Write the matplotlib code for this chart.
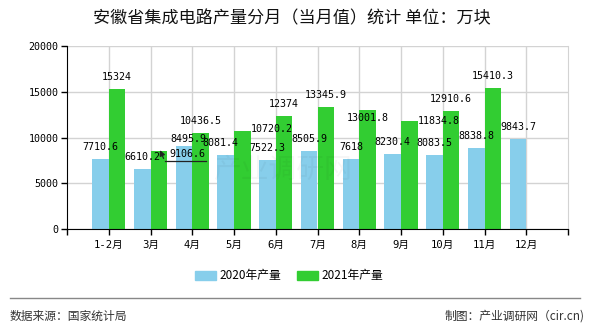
import matplotlib
matplotlib.use('Agg')
import matplotlib.pyplot as plt
from matplotlib.lines import Line2D
from matplotlib.patches import Patch

months = ['1-2月', '3月', '4月', '5月', '6月', '7月', '8月', '9月', '10月', '11月', '12月']
prod_2020 = [7710.6, 6610.2, 9106.6, 8081.4, 7522.3, 8505.9, 7618, 8230.4, 8083.5, 8838.8, 9843.7]
prod_2021 = [15324, 8495.9, 10436.5, 10720.2, 12374, 13345.9, 13001.8, 11834.8, 12910.6, 15410.3, None]
labels_2020 = ['7710.6', '6610.2', '9106.6', '8081.4', '7522.3', '8505.9', '7618', '8230.4', '8083.5', '8838.8', '9843.7']
labels_2021 = ['15324', '8495.9', '10436.5', '10720.2', '12374', '13345.9', '13001.8', '11834.8', '12910.6', '15410.3', '']

c2020 = '#87CEEB'
c2021 = '#32CD32'
cjk = ['Noto Sans CJK SC', 'DejaVu Sans']
mono = ['DejaVu Sans Mono', 'Noto Sans CJK SC']

fig = plt.figure(figsize=(5.9, 3.3), dpi=100)
ax = fig.add_axes([67/590, 1-229.3/330, 501/590, 183.6/330])

x = list(range(len(months)))
w = 0.4
ax.bar([i - w/2 for i in x], prod_2020, width=w, color=c2020, zorder=2)
ax.bar([i + w/2 for i in x if prod_2021[i] is not None],
       [v for v in prod_2021 if v is not None], width=w, color=c2021, zorder=2)

# label shifts (px right, px down) for labels that were moved in the original
shift_2020 = {2: (3, 20), 3: (-5, 0)}
shift_2021 = {1: (30, 0), 3: (29, 10), 6: (0, 20), 7: (29, 12)}
k = 0.72
for i in x:
    dx, dy = shift_2020.get(i, (0, 0))
    ax.annotate(labels_2020[i], (i - w/2, prod_2020[i]), xytext=(dx*k, (12 - dy)*k),
                textcoords='offset points', ha='center', va='center',
                fontsize=7.2, family=mono, zorder=4)
    if prod_2021[i] is not None:
        dx, dy = shift_2021.get(i, (0, 0))
        ax.annotate(labels_2021[i], (i + w/2, prod_2021[i]), xytext=(dx*k, (12 - dy)*k),
                    textcoords='offset points', ha='center', va='center',
                    fontsize=7.2, family=mono, zorder=4)

# leader line of the moved label
ax.plot([1.34, 2.33], [7440, 7440], color='#222222', lw=0.9, zorder=5)
ax.annotate('', xy=(1.2, 8900), xytext=(1.34, 7440),
            arrowprops=dict(arrowstyle='-|>', color='#222222', lw=0.9, mutation_scale=8), zorder=5)

ax.set_xlim(-1, len(months))
ax.set_ylim(0, 20000)
ax.set_yticks([0, 5000, 10000, 15000, 20000])
ax.set_xticks(x)
ax.set_xticklabels(months, family=mono, fontsize=7.6)
for t in ax.get_yticklabels():
    t.set_family(mono)
    t.set_fontsize(7.2)
ax.set_xticks([-1, len(months)], minor=True)
ax.tick_params(axis='both', which='both', length=4, width=1, color='black', pad=2)
ax.tick_params(axis='x', pad=4)
ax.grid(True, color='#d3d3d3', lw=1, zorder=0)
ax.set_axisbelow(True)
ax.spines['top'].set_visible(False)
ax.spines['right'].set_color('#d3d3d3')
ax.spines['left'].set_color('black')
ax.spines['bottom'].set_color('black')

# faint watermark
ax.text(2.5, 6500, '产业调研网', fontsize=20, family=cjk, color='black', alpha=0.035,
        ha='left', va='center', zorder=3)

fig.text(0.495, 1-18/330, '安徽省集成电路产量分月（当月值）统计 单位：万块', ha='center', va='center',
         fontsize=12.3, family=cjk, color='#111111')

handles = [Patch(color=c2020, label='2020年产量'), Patch(color=c2021, label='2021年产量')]
leg = fig.legend(handles=handles, loc='center', bbox_to_anchor=(0.49, 1-276/330), ncol=2,
                 frameon=False, handlelength=1.8, handleheight=0.8, handletextpad=0.3,
                 columnspacing=1.3, prop={'family': cjk, 'size': 8.5})

fig.add_artist(Line2D([10/590, 580/590], [1-298/330]*2, color='#888888', lw=1))
fig.text(10/590, 1-316/330, '数据来源：国家统计局', ha='left', va='center', fontsize=8.5,
         family=cjk, color='#333333')
fig.text(585/590, 1-316/330, '制图：产业调研网（cir.cn)', ha='right', va='center', fontsize=8.5,
         family=cjk, color='#333333')

fig.savefig('out.png', dpi=100)
